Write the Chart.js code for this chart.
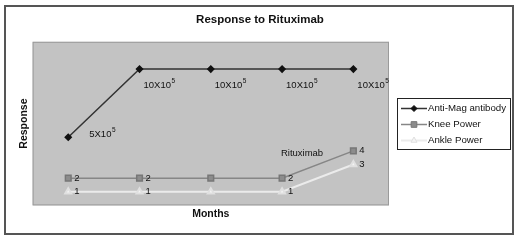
<!DOCTYPE html>
<html>
<head>
<meta charset="utf-8">
<script src="https://cdn.jsdelivr.net/npm/chart.js@4.4.1/dist/chart.umd.min.js"></script>
<style>
  html, body { margin: 0; padding: 0; background: #fff; }
  #wrap { width: 520px; height: 240px; }
</style>
</head>
<body>
<div id="wrap"><canvas id="chart" width="520" height="240"></canvas></div>
<script>
const months = ['1', '2', '3', '4', '5'];
const antiMag = [5, 10, 10, 10, 10];          // in units of 10^5
const kneePower = [2, 2, 2, 2, 4];
const anklePower = [1, 1, 1, 1, 3];
const antiMagLabels = ['5X10^5', '10X10^5', '10X10^5', '10X10^5', '10X10^5'];
const kneeLabels = ['2', '2', '', '2', '4'];
const ankleLabels = ['1', '1', '', '1', '3'];
const seriesNames = ['Anti-Mag antibody', 'Knee Power', 'Ankle Power'];
const noteText = 'Rituximab';

const FONT = '"Liberation Sans", Arial, sans-serif';

// background: white sheet, outer frame, grey plot area
const frame = {
    id: 'frame',
    beforeDraw(chart) {
        const ctx = chart.ctx, a = chart.chartArea;
        ctx.save();
        ctx.fillStyle = '#fff';
        ctx.fillRect(0, 0, chart.width, chart.height);
        ctx.strokeStyle = '#555';
        ctx.lineWidth = 2;
        ctx.strokeRect(5, 6, 508, 228);
        ctx.fillStyle = '#c3c3c3';
        ctx.fillRect(a.left, a.top, a.right - a.left, a.bottom - a.top);
        ctx.strokeStyle = '#9a9a9a';
        ctx.lineWidth = 1;
        ctx.strokeRect(a.left + 0.5, a.top + 0.5, a.right - a.left - 1, a.bottom - a.top - 1);
        ctx.restore();
    }
};

// value labels next to points + the "Rituximab" note
const pointLabels = {
    id: 'pointLabels',
    afterDatasetsDraw(chart, args, opts) {
        const ctx = chart.ctx;
        ctx.save();
        ctx.fillStyle = '#111';
        ctx.textBaseline = 'middle';
        ctx.textAlign = 'left';
        opts.sets.forEach((set, di) => {
            const meta = chart.getDatasetMeta(di);
            set.labels.forEach((txt, i) => {
                if (!txt) return;
                const pt = meta.data[i];
                const off = set.offset(i);
                const x = pt.x + off[0], y = pt.y + off[1];
                const parts = txt.split('^');
                ctx.font = '9.5px ' + FONT;
                ctx.fillText(parts[0], x, y);
                if (parts[1]) {
                    const w = ctx.measureText(parts[0]).width;
                    ctx.font = '6.5px ' + FONT;
                    ctx.fillText(parts[1], x + w + 0.5, y - 4);
                }
            });
        });
        ctx.font = '9.5px ' + FONT;
        ctx.textAlign = 'center';
        ctx.fillText(noteText,
            chart.scales.x.getPixelForValue(opts.note.x),
            chart.scales.y.getPixelForValue(opts.note.y));
        ctx.restore();
    }
};

// boxed legend with line + marker samples
const boxLegend = {
    id: 'boxLegend',
    afterDraw(chart) {
        const ctx = chart.ctx, a = chart.chartArea;
        const rowH = 16, w = 113, h = 51;
        const left = a.right + 8;
        const top = Math.round((a.top + a.bottom) / 2 - h / 2);
        ctx.save();
        ctx.fillStyle = '#fff';
        ctx.fillRect(left, top, w, h);
        ctx.strokeStyle = '#222';
        ctx.lineWidth = 1;
        ctx.strokeRect(left + 0.5, top + 0.5, w, h);
        chart.data.datasets.forEach((ds, i) => {
            const y = top + 10.5 + i * rowH;
            ctx.strokeStyle = ds.borderColor;
            ctx.lineWidth = ds.borderWidth;
            ctx.beginPath();
            ctx.moveTo(left + 4, y);
            ctx.lineTo(left + 30, y);
            ctx.stroke();
            ctx.fillStyle = ds.pointBackgroundColor;
            ctx.strokeStyle = ds.pointBorderColor;
            ctx.lineWidth = 1;
            Chart.helpers.drawPoint(ctx, { pointStyle: ds.pointStyle, radius: ds.pointRadius, borderWidth: 1 }, left + 17, y);
            ctx.fillStyle = '#111';
            ctx.font = '9.7px ' + FONT;
            ctx.textBaseline = 'middle';
            ctx.textAlign = 'left';
            ctx.fillText(ds.label, left + 31, y);
        });
        ctx.restore();
    }
};

const ctx = document.getElementById('chart').getContext('2d');
new Chart(ctx, {
    type: 'line',
    data: {
        labels: months,
        datasets: [
            {
                label: seriesNames[0],
                data: antiMag,
                borderColor: '#333',
                borderWidth: 1.5,
                pointStyle: 'rectRot',
                pointRadius: 3,
                pointBackgroundColor: '#111',
                pointBorderColor: '#111',
                tension: 0
            },
            {
                label: seriesNames[1],
                data: kneePower,
                borderColor: '#868686',
                borderWidth: 1.5,
                pointStyle: 'rect',
                pointRadius: 4,
                pointBackgroundColor: '#8c8c8c',
                pointBorderColor: '#777',
                tension: 0
            },
            {
                label: seriesNames[2],
                data: anklePower,
                borderColor: '#ebebeb',
                borderWidth: 2,
                pointStyle: 'triangle',
                pointRadius: 3.5,
                pointBackgroundColor: '#f4f4f4',
                pointBorderColor: '#e0e0e0',
                tension: 0
            }
        ]
    },
    options: {
        responsive: false,
        animation: false,
        devicePixelRatio: 1,
        layout: { padding: { left: 10, right: 10, top: 5, bottom: 20 } },
        scales: {
            x: {
                offset: true,
                grid: { display: false, drawTicks: false },
                border: { display: false },
                ticks: { display: false },
                title: {
                    display: true, text: 'Months', color: '#111',
                    font: { family: FONT, size: 10.5, weight: 'bold' },
                    padding: { top: 2, bottom: 0 }
                }
            },
            y: {
                min: 0,
                max: 12,
                grid: { display: false, drawTicks: false },
                border: { display: false },
                ticks: { display: false },
                title: {
                    display: true, text: 'Response', color: '#111',
                    font: { family: FONT, size: 10.5, weight: 'bold' },
                    padding: { top: 8, bottom: 2 }
                }
            },
            spacer: {
                type: 'linear',
                position: 'right',
                grid: { display: false, drawTicks: false },
                border: { display: false },
                ticks: { display: false },
                afterFit(scale) { scale.width = 121; }
            }
        },
        plugins: {
            legend: { display: false },
            tooltip: { enabled: false },
            title: {
                display: true,
                text: 'Response to Rituximab',
                color: '#111',
                font: { family: FONT, size: 11.5, weight: 'bold' },
                padding: { top: 8, bottom: 15 }
            },
            pointLabels: {
                sets: [
                    { labels: antiMagLabels, offset: i => i === 0 ? [21, -3] : [4, 16] },
                    { labels: kneeLabels, offset: i => [6, 0] },
                    { labels: ankleLabels, offset: i => [6, 0] }
                ],
                note: { x: 3.28, y: 3.85 }
            }
        }
    },
    plugins: [frame, pointLabels, boxLegend]
});
</script>
</body>
</html>
